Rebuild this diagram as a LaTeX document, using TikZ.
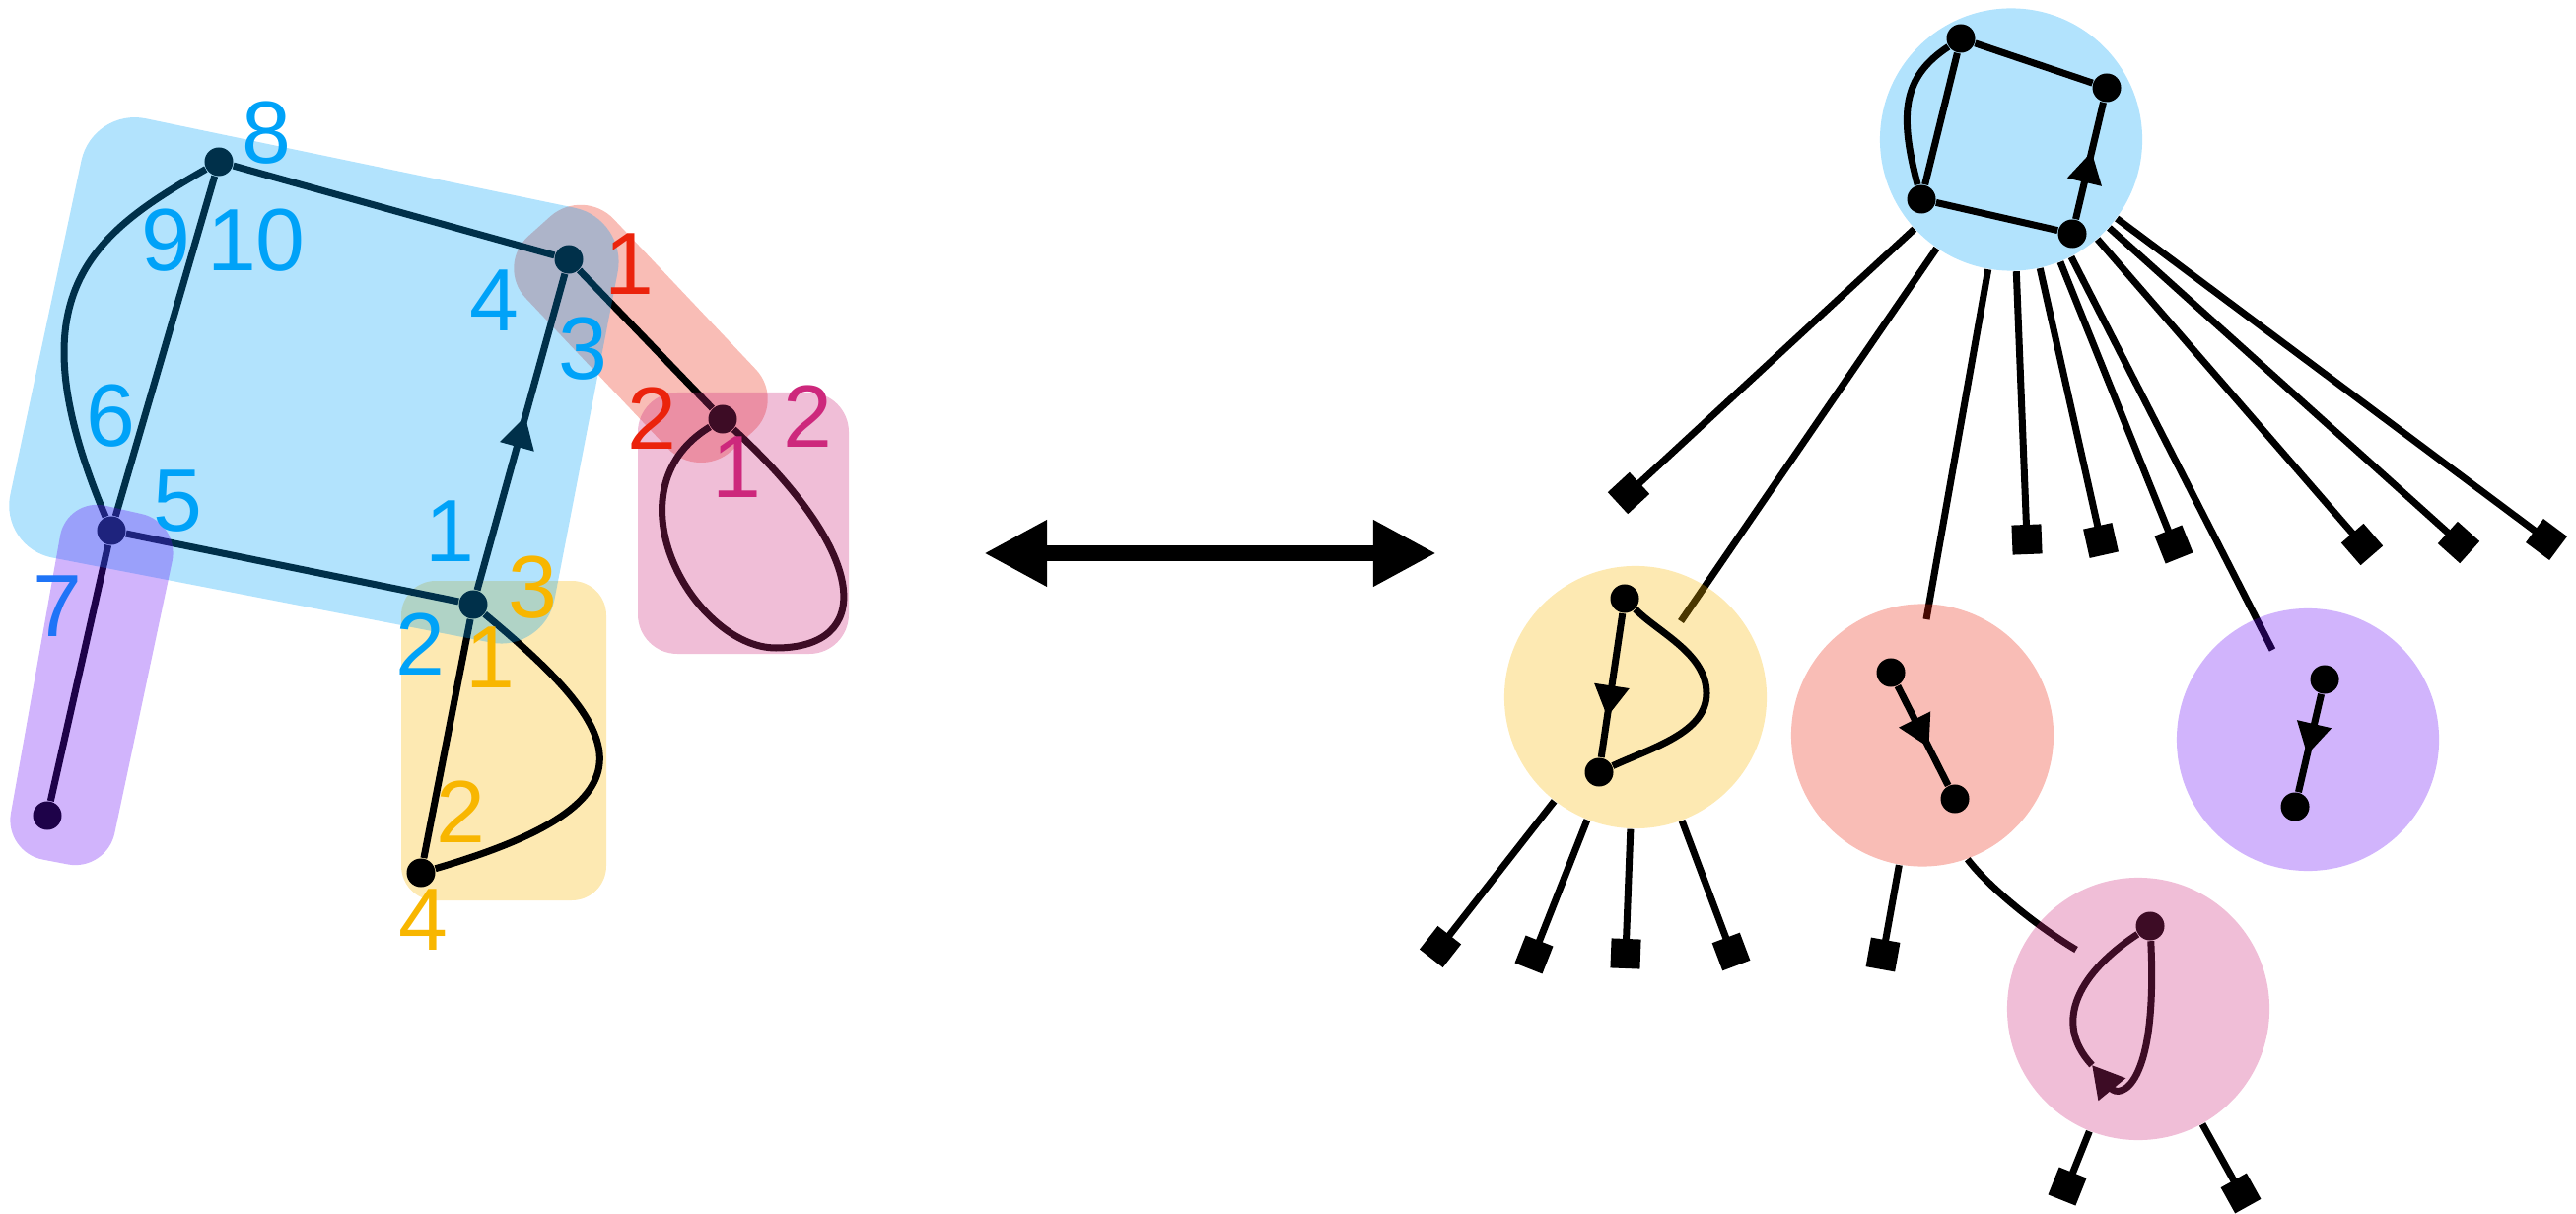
\documentclass[tikz,border=0pt]{standalone}
\usepackage{fontspec}
\setmainfont{Liberation Sans}
\usetikzlibrary{arrows.meta,decorations.markings,backgrounds}

\definecolor{cblue}{RGB}{0,162,248}
\definecolor{cred}{RGB}{235,35,12}
\definecolor{cmag}{RGB}{205,40,124}
\definecolor{cyel}{RGB}{248,182,0}
\definecolor{cpur}{RGB}{102,8,245}

\begin{document}
\begin{tikzpicture}[x=0.01cm, y=-0.01cm,
    dot/.style={circle, fill, inner sep=0pt, minimum size=0.29cm},
    edge/.style={line width=0.07cm},
    num/.style={inner sep=0pt, font=\fontsize{25.5}{30}\selectfont},
    region/.style={fill opacity=0.3, rounded corners=0.45cm},
    bubble/.style={circle, inner sep=0pt, minimum size=2.66cm, fill opacity=0.3},
    midarrow/.style={postaction={decorate}, decoration={markings,
      mark=at position #1 with {\arrow{Triangle[length=0.32cm,width=0.34cm]}}}},
    midarrow/.default=0.56,
    leaf/.style={edge, -{Square[length=0.3cm,width=0.3cm]}, shorten >=-0.15cm}
  ]
  \useasboundingbox (0,0) rectangle (2613,1231);

  % left graph
  \node[dot] (nTop) at (222,164) {};
  \node[dot] (nRight) at (577,263) {};
  \node[dot] (nLoop) at (733,425) {};
  \node[dot] (nHub) at (113,538) {};
  \node[dot] (nMid) at (480,613) {};
  \node[dot] (nTail) at (48,827) {};
  \node[dot] (nFoot) at (427,885) {};

  \draw[edge] (nTop) -- (nRight);
  \draw[edge] (nTop) -- (nHub);
  \draw[edge] (nTop) .. controls (92,238) and (12,299) .. (nHub);
  \draw[edge] (nHub) -- (nMid);
  \draw[edge, midarrow=0.55] (nMid) -- (nRight);
  \draw[edge] (nRight) -- (nLoop);
  \draw[edge] (nLoop) .. controls (613,498) and (705,657) .. (787,657)
    .. controls (885,657) and (885,565) .. (nLoop);
  \draw[edge] (nHub) -- (nTail);
  \draw[edge] (nMid) -- (nFoot);
  \draw[edge] (nMid) .. controls (634,741) and (677,812) .. (nFoot);

  \begin{scope}[on background layer]
    \fill[region, cyel, rounded corners=0.35cm] (407,589) rectangle (615,913);
    \fill[region, cred] (591.6,189.4) -- (797.6,407.2) -- (708.4,487.4) -- (502.4,269.6) -- cycle;
  \end{scope}
  \fill[region, cblue, rounded corners=0.55cm] (94,109) -- (637,222) -- (552,662) -- (-1,555) -- cycle;
  \fill[region, cpur, rounded corners=0.4cm] (183,530) -- (108,884) -- (4,864) -- (68,504) -- cycle;
  \fill[region, cmag, rounded corners=0.4cm] (647,398) rectangle (861,663);

  \node[num, text=cblue] (lab8) at (270,135) {8};
  \node[num, text=cblue] (lab9) at (168,244) {9};
  \node[num, text=cblue] (lab10) at (260,244) {10};
  \node[num, text=cblue] (lab6) at (112,422) {6};
  \node[num, text=cblue] (lab5) at (180,508) {5};
  \node[num, text=cblue!70!cpur] (lab7) at (58,615) {7};
  \node[num, text=cblue] (lab4) at (501,305) {4};
  \node[num, text=cblue] (lab3) at (591,354) {3};
  \node[num, text=cblue] (lab1) at (456,539) {1};
  \node[num, text=cblue] (lab2) at (426,653) {2};
  \node[num, text=cred] (red1) at (638,268) {1};
  \node[num, text=cred] (red2) at (661,424) {2};
  \node[num, text=cmag] (mag2) at (819,422) {2};
  \node[num, text=cmag] (mag1) at (747,474) {1};
  \node[num, text=cyel] (yel3) at (540,596) {3};
  \node[num, text=cyel] (yel1) at (497,667) {1};
  \node[num, text=cyel] (yel2) at (467,823) {2};
  \node[num, text=cyel] (yel4) at (429,933) {4};

  % swap arrow
  \coordinate (swapL) at (998,561);
  \coordinate (swapR) at (1457,561);
  \draw[line width=0.16cm, {Triangle[length=0.64cm,width=0.63cm]}-{Triangle[length=0.64cm,width=0.63cm]}] (swapL) -- (swapR);

  % right tree
  \node[bubble, fill=cblue] (topc) at (2040,141.5) {};
  \node[bubble, fill=cyel] (yc) at (1659,707) {};
  \node[bubble, fill=cred] (rc) at (1950,745.5) {};
  \node[bubble, fill=cpur] (pc) at (2341,750) {};
  \node[bubble, fill=cmag] (kc) at (2169,1023) {};

  \coordinate (ey) at (1705,630);
  \coordinate (er) at (1954,628);
  \coordinate (ep) at (2305,659);
  \coordinate (ek) at (2106,963);

  \begin{scope}[on background layer]
    \draw[edge] (topc) -- (ey);
    \draw[edge] (topc) -- (er);
    \draw[edge] (topc) -- (ep);
    \foreach \x/\y in {1652/500, 2056/547, 2131/548, 2205/552, 2396/552, 2494/550, 2583/547}
      \draw[leaf] (topc) -- (\x,\y);
    \foreach \x/\y in {1461/960, 1556/968, 1649/967, 1756/965}
      \draw[leaf] (yc) -- (\x,\y);
    \draw[leaf] (rc) -- (1910,968);
    \draw[edge] (rc.-70) .. controls (2019,902) and (2072,943) .. (ek);
    \draw[leaf] (kc) -- (2097,1203);
    \draw[leaf] (kc) -- (2273,1210);

    \node[dot] (k1) at (2181,939) {};
    \coordinate (kTip) at (2122,1080);
    \draw[edge, -{Triangle[length=0.32cm,width=0.34cm]}] (k1) .. controls (2189,1104) and (2150,1114) .. (kTip);
    \draw[edge] (kTip) .. controls (2080,1035) and (2112,984) .. (k1);
  \end{scope}

  \node[dot] (t1) at (1989,39) {};
  \node[dot] (t2) at (2137,89) {};
  \node[dot] (t3) at (1949,202) {};
  \node[dot] (t4) at (2102,237) {};
  \draw[edge] (t1) -- (t2);
  \draw[edge, midarrow=0.58] (t4) -- (t2);
  \draw[edge] (t4) -- (t3);
  \draw[edge] (t3) -- (t1);
  \draw[edge] (t1) .. controls (1930,78) and (1926,115) .. (t3);

  \node[dot] (y1) at (1648,607) {};
  \node[dot] (y2) at (1622,783) {};
  \draw[edge, midarrow=0.72] (y1) -- (y2);
  \draw[edge] (y1) .. controls (1683,642) and (1731,663) .. (1731,703)
    .. controls (1731,743) and (1676,758) .. (y2);

  \node[dot] (r1) at (1918,682) {};
  \node[dot] (r2) at (1983,810) {};
  \draw[edge, midarrow=0.62] (r1) -- (r2);

  \node[dot] (p1) at (2358,689) {};
  \node[dot] (p2) at (2328,818) {};
  \draw[edge, midarrow=0.62] (p1) -- (p2);
\end{tikzpicture}
\end{document}
